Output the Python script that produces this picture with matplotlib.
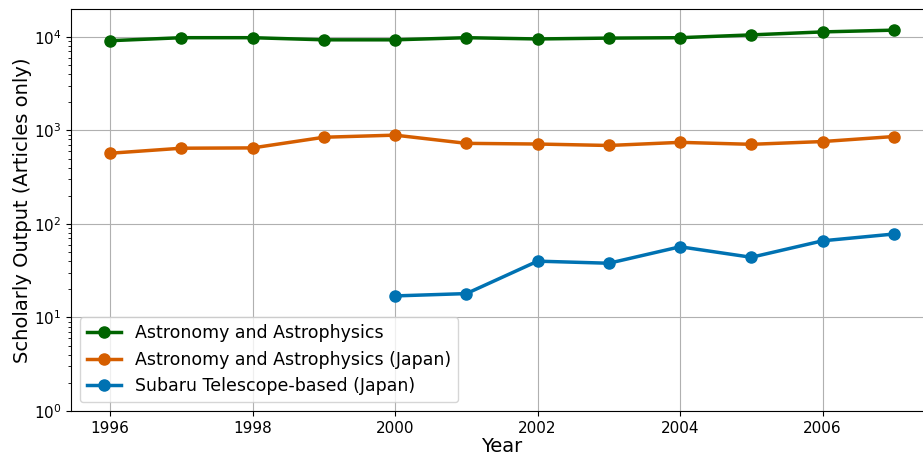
import matplotlib
matplotlib.use("Agg")
import matplotlib.pyplot as plt

years = [1996, 1997, 1998, 1999, 2000, 2001, 2002, 2003, 2004, 2005, 2006, 2007]
astro_world = [9100, 9800, 9800, 9300, 9300, 9800, 9500, 9700, 9800, 10500, 11300, 11800]
astro_japan = [570, 645, 650, 845, 890, 727, 715, 690, 745, 710, 760, 860]
subaru_years = [2000, 2001, 2002, 2003, 2004, 2005, 2006, 2007]
subaru_japan = [17, 18, 40, 38, 57, 44, 66, 78]

fig = plt.figure(figsize=(9.23, 4.57), dpi=100)
ax = fig.add_axes([71/923, 1 - 411/457, (933 - 71)/923, (411 - 9)/457])

ax.plot(years, astro_world, '-o', color='#006400', lw=2.5, ms=8, label='Astronomy and Astrophysics')
ax.plot(years, astro_japan, '-o', color='#d55e00', lw=2.5, ms=8, label='Astronomy and Astrophysics (Japan)')
ax.plot(subaru_years, subaru_japan, '-o', color='#0072b2', lw=2.5, ms=8, label='Subaru Telescope-based (Japan)')

ax.set_yscale('log')
ax.set_ylim(1, 10**4.298)
ax.set_xlim(1995.45, 2007.55)
ax.set_xticks([1996, 1998, 2000, 2002, 2004, 2006])
ax.grid(True, which='major', color='#b0b0b0', lw=0.8)
ax.tick_params(labelsize=11)
ax.set_xlabel('Year', fontsize=14, labelpad=1)
ax.set_ylabel('Scholarly Output (Articles only)', fontsize=14, labelpad=1.5)
ax.legend(loc='lower left', fontsize=12.5)

fig.savefig('out.png', dpi=100)
